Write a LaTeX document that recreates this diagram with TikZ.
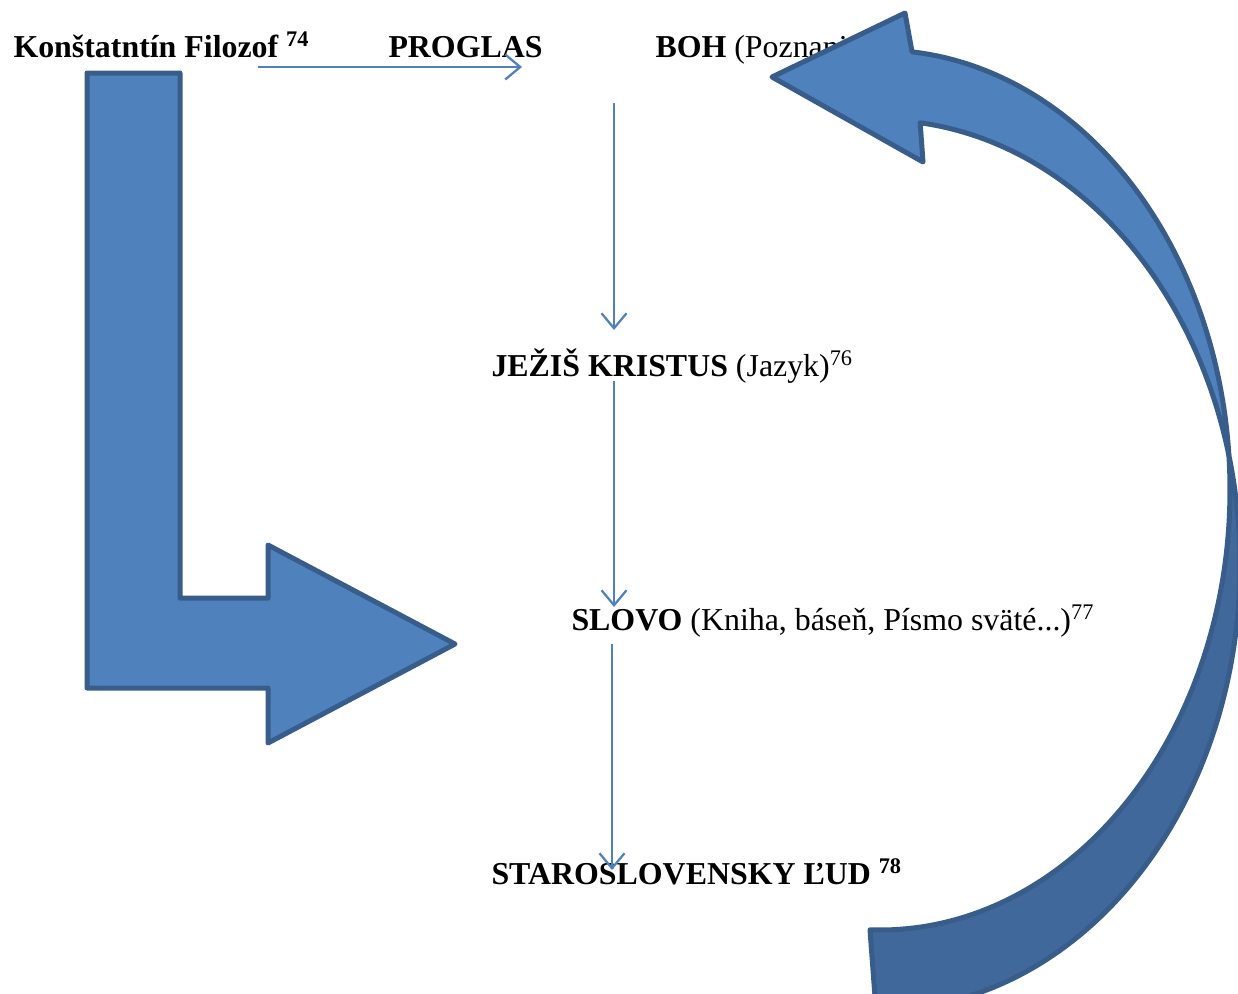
\documentclass[tikz,border=0pt]{standalone}
\usepackage{fontspec}
\setmainfont{Liberation Serif}
\usetikzlibrary{arrows.meta}
\definecolor{acc}{HTML}{4F81BD}
\definecolor{accline}{HTML}{385D8A}
\definecolor{accdark}{HTML}{41689A}
\begin{document}
\begin{tikzpicture}[x=0.4pt,y=-0.4pt,
  lbl/.style={anchor=base west,inner sep=0pt,font=\fontsize{12.75}{15}\selectfont},
  thinarrow/.style={draw=acc,line width=0.9pt,-{Straight Barb[length=6pt,width=10pt]}},
  block/.style={fill=acc,draw=accline,line width=2pt,line join=round},
  blockback/.style={fill=accdark,draw=accline,line width=2pt,line join=round}]
\useasboundingbox (0,0) rectangle (1238,993);
% texts
\node[lbl] (k) at (13,57) {\textbf{Konštatntín Filozof \textsuperscript{74}}};
\node[lbl] (p) at (388,57) {\textbf{PROGLAS}};
\node[lbl] (b) at (655,57) {\textbf{BOH} (Poznanie)};
\node[lbl] (j) at (491,376) {\textbf{JEŽIŠ KRISTUS} (Jazyk)\textsuperscript{76}};
\node[lbl] (s) at (571,630) {\textbf{SLOVO} (Kniha, báseň, Písmo sväté...)\textsuperscript{77}};
\node[lbl] (l) at (491,884) {\textbf{STAROSLOVENSKY ĽUD \textsuperscript{78}}};
% connector end points
\coordinate (k1) at (258,67);
\coordinate (p1) at (522,67);
\coordinate (b1) at (614,103);
\coordinate (j0) at (614,330);
\coordinate (j1) at (614,381);
\coordinate (s0) at (614,607);
\coordinate (s1) at (612,644);
\coordinate (l0) at (612,870);
\draw[thinarrow] (k1) -- (p1);
\draw[thinarrow] (b1) -- (j0);
\draw[thinarrow] (j1) -- (s0);
\draw[thinarrow] (s1) -- (l0);
% bent arrow
\draw[block] (87,73) -- (180,73) -- (180,598) -- (268,598) -- (268,545)
  -- (455,644) -- (268,743) -- (268,688) -- (87,688) -- cycle;
% curved arrow: back part
\draw[blockback] plot[domain=-4.56:91.64,samples=80] ({880+350*cos(\x)},{490+440*sin(\x)})
  -- plot[domain=90.64:-14.31,samples=80] ({880+360*cos(\x)},{565+445*sin(\x)}) -- cycle;
% curved arrow: front part with head
\draw[block] plot[domain=-84.75:-4.56,samples=80] ({880+350*cos(\x)},{490+440*sin(\x)})
  -- plot[domain=-14.31:-83.6,samples=80] ({880+360*cos(\x)},{565+445*sin(\x)})
  -- (923,162) -- (772,77) -- (905,13) -- cycle;
\end{tikzpicture}
\end{document}
